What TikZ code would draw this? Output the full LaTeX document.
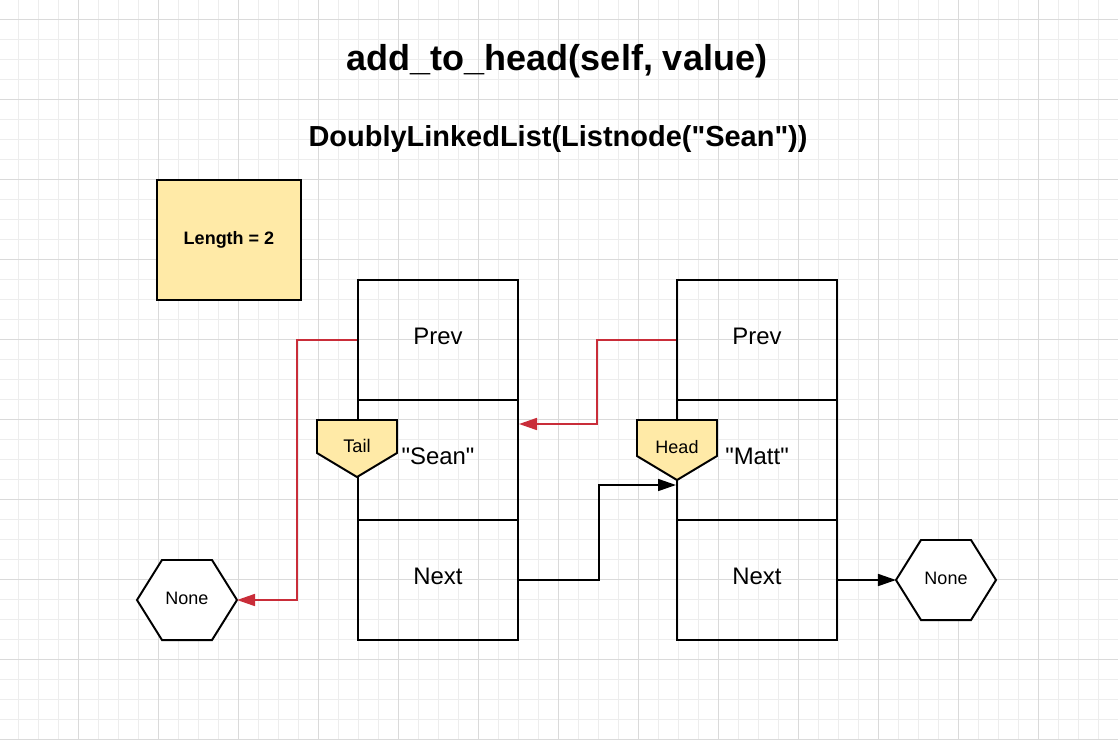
\documentclass[tikz,border=0pt]{standalone}
\usepackage{fontspec}
\setmainfont{Liberation Sans}[Ligatures=TeXOff]
\usetikzlibrary{arrows.meta,calc}
\definecolor{tagyellow}{HTML}{FFEAA7}
\definecolor{linkred}{HTML}{C92D39}
\definecolor{minorgrid}{HTML}{EDEDED}
\definecolor{majorgrid}{HTML}{DADADA}
\tikzset{
  cell/.style={draw, line width=1.4pt, minimum width=4cm, minimum height=3cm, inner sep=0pt, text height=0.72em, text depth=0.15em, font=\fontsize{17}{20}\selectfont},
  lengthbox/.style={draw, line width=1.4pt, fill=tagyellow, minimum width=3.6cm, minimum height=3cm, font=\bfseries\fontsize{12.8}{15}\selectfont},
  hexbox/.style={minimum width=2.5cm, minimum height=2cm, inner sep=0pt, outer sep=0pt, text height=0.72em, text depth=0.15em, font=\fontsize{12.8}{15}\selectfont},
  hexline/.style={line width=1.4pt, fill=white, line join=miter},
  tagshape/.style={draw, line width=1.4pt, fill=tagyellow, line join=miter},
  redlink/.style={draw=linkred, line width=1.3pt, -{Triangle[length=12.8pt,width=8.5pt]}},
  blacklink/.style={draw=black, line width=1.3pt, -{Triangle[length=12.8pt,width=8.5pt]}}
}
\begin{document}
\begin{tikzpicture}[x=0.025cm, y=-0.025cm]
        \useasboundingbox (0,0) rectangle (1118,739);
        \fill[white] (0,0) rectangle (1118,739);
        % grid
        \foreach \x in {18,38,...,1118} \draw[minorgrid, line width=0.7pt] (\x,0) -- (\x,739);
        \foreach \y in {19,39,...,739} \draw[minorgrid, line width=0.7pt] (0,\y) -- (1118,\y);
        \foreach \x in {78,158,...,1118} \draw[majorgrid, line width=0.7pt] (\x,0) -- (\x,739);
        \foreach \y in {19,99,...,739} \draw[majorgrid, line width=0.7pt] (0,\y) -- (1118,\y);
        % titles
        \node[font=\bfseries\fontsize{25.6}{30}\selectfont] (title) at (557,61) {add\_to\_head(self, value)};
        \node[font=\bfseries\fontsize{20.6}{24}\selectfont] (subtitle) at (558,139) {DoublyLinkedList(Listnode("Sean"))};
        \node[lengthbox] (length) at (229,240) {Length = 2};
        % list nodes
        \node[cell] (sprev) at (438,340) {Prev};
        \node[cell] (sval) at (438,460) {"Sean"};
        \node[cell] (snext) at (438,580) {Next};
        \node[cell] (mprev) at (757,340) {Prev};
        \node[cell] (mval) at (757,460) {"Matt"};
        \node[cell] (mnext) at (757,580) {Next};
        % tags
        \draw[tagshape] (317,420) -- (397,420) -- (397,453) -- (357,477) -- (317,453) -- cycle;
        \node[font=\fontsize{13}{15}\selectfont] (tail) at (357,446) {Tail};
        \draw[tagshape] (637,420) -- (717,420) -- (717,456) -- (677,480) -- (637,456) -- cycle;
        \node[font=\fontsize{12.8}{15}\selectfont] (head) at (677,447) {Head};
        % none
        \node[hexbox] (nonel) at (187,600) {};
        \draw[hexline] (nonel.west) -- ($(nonel.north west)+(25,0)$) -- ($(nonel.north east)+(-25,0)$) -- (nonel.east) -- ($(nonel.south east)+(-25,0)$) -- ($(nonel.south west)+(25,0)$) -- cycle;
        \node[hexbox] at (nonel) {None};
        \node[hexbox] (noner) at (946,580) {};
        \draw[hexline] (noner.west) -- ($(noner.north west)+(25,0)$) -- ($(noner.north east)+(-25,0)$) -- (noner.east) -- ($(noner.south east)+(-25,0)$) -- ($(noner.south west)+(25,0)$) -- cycle;
        \node[hexbox] at (noner) {None};
        % links
        \draw[redlink] (sprev.west) -- ++(-60,0) |- (nonel.east);
        \draw[redlink] (mprev.west) -- ++(-79,0) |- ($(sval.east)+(0,-36)$);
        \draw[blacklink] (snext.east) -- ++(80,0) |- ($(mval.west)+(0,25)$);
        \draw[blacklink] (mnext.east) -- (noner.west);
\end{tikzpicture}
\end{document}
